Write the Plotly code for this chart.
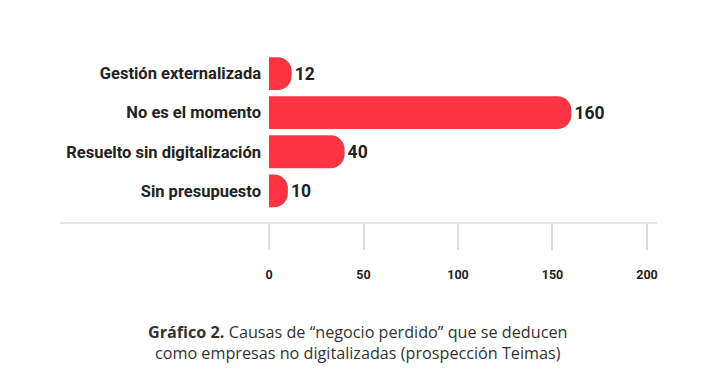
import plotly.graph_objects as go

categories = ["Gestión externalizada", "No es el momento", "Resuelto sin digitalización", "Sin presupuesto"]
values = [12, 160, 40, 10]
tick_vals = [0, 50, 100, 150, 200]
caption_bold = "Gráfico 2."
caption_rest = " Causas de “negocio perdido” que se deducen<br>como empresas no digitalizadas (prospección Teimas)"

W, H = 714, 374
L, R, T, B = 269, 57, 54, 151

fig = go.Figure(go.Bar(
    x=values, y=categories, orientation="h",
    marker=dict(color="#FE3443", line=dict(width=0)),
    text=[str(v) for v in values], textposition="outside",
    textfont=dict(family="Roboto", size=17.5, color="#222222", weight="bold"),
    cliponaxis=False,
))

fig.update_layout(
    width=W, height=H,
    margin=dict(l=L, r=R, t=T, b=B, pad=0),
    paper_bgcolor="white", plot_bgcolor="white",
    bargap=0.16, barcornerradius=14,
    showlegend=False,
    xaxis=dict(range=[0, 205.3], tickvals=tick_vals, showgrid=False, zeroline=False,
               showline=False, ticks="outside", ticklen=26, tickwidth=1.5, tickcolor="#DDDDDD",
               ticklabelstandoff=14,
               tickfont=dict(family="Roboto", size=12.5, color="#222222", weight="bold")),
    yaxis=dict(categoryorder="array", categoryarray=categories, range=[3.82, -0.5],
               showgrid=False, zeroline=False, showline=False, ticks="",
               ticklabelstandoff=7,
               tickfont=dict(family="Roboto", size=16.5, color="#222222", weight="bold")),
    font=dict(family="Roboto"),
)

fig.add_shape(type="line", xref="paper", yref="paper", x0=(60 - L) / (W - L - R), x1=1, y0=0, y1=0,
              line=dict(color="#DDDDDD", width=1.5))

fig.add_annotation(xref="paper", yref="paper", x=(357 - L) / (W - L - R), y=-(342 - (H - B)) / (H - T - B),
                   text="<b>" + caption_bold + "</b>" + caption_rest, showarrow=False,
                   xanchor="center", yanchor="middle", align="center",
                   font=dict(family="Open Sans", size=16.2, color="#333333"))

fig.write_html("out.html", config={"displayModeBar": False},
               post_script="document.body.style.margin='0';document.body.style.overflow='hidden';")
